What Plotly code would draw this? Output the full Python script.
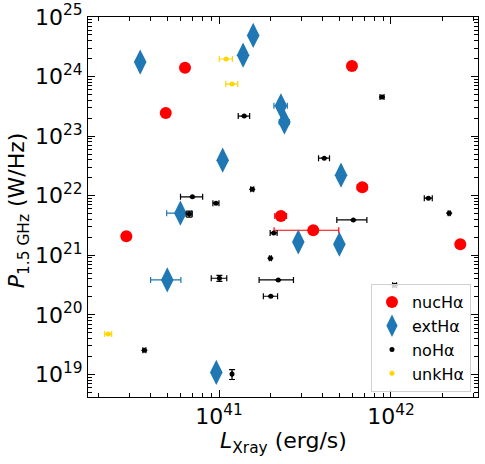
import plotly.graph_objects as go

# nucHα
nuc_x = [6.34e40, 4.9e40, 5.93e41, 6.81e41, 2.29e41, 3.53e41, 2.89e40, 2.53e42]
nuc_y = [1.41e24, 2.44e23, 1.5e24, 1.39e22, 4.57e21, 2.63e21, 2.08e21, 1.53e21]
nuc_xerr = [0, 0, 0, 4.5e40, 1.8e40, 1.44e41, 0, 0]

# extHα
ext_x = [1.58e41, 1.38e41, 3.48e40, 2.29e41, 2.4e41, 1.05e41, 5.12e41, 5.96e40,
         2.89e41, 5.01e41, 5.0e40, 9.64e40]
ext_y = [4.9e24, 2.29e24, 1.75e24, 3.23e23, 1.72e23, 3.95e22, 2.21e22, 5.08e21,
         1.67e21, 1.53e21, 3.85e20, 1.08e19]
ext_xerr = [0, 0, 0, 2.05e40, 1.6e40, 0, 0, 1.0e40, 0, 0, 1.0e40, 0]

# noHα
no_x = [1.40e41, 8.87e41, 4.09e41, 1.56e41, 7.0e40, 9.6e40, 6.71e40, 2.08e41, 1.99e41,
        6.04e41, 1.65e42, 2.18e42, 2.21e41, 1.005e41, 2.0e41, 1.05e42, 3.68e40, 1.19e41]
no_y = [2.17e23, 4.52e23, 4.27e22, 1.28e22, 9.55e21, 7.48e21, 4.94e21, 2.37e21, 8.9e20,
        3.92e21, 9.08e21, 5.08e21, 3.85e20, 4.11e20, 2.05e20, 3.13e20, 2.53e19, 1.01e19]
no_xerr = [1.07e40, 2.4e40, 3.0e40, 3.1e39, 1.03e40, 3.9e39, 2.7e39, 9.7e39, 2.7e39,
           1.2e41, 8.8e40, 2.9e40, 5.0e40, 1.04e40, 1.9e40, 2.8e40, 7.4e38, 0]
no_yerr = [0, 0, 0, 0, 0, 0, 5.7e20, 0, 0, 0, 0, 0, 0, 4.8e19, 0, 0, 0, 1.9e18]

# unkHα
unk_x = [1.1e41, 1.19e41, 2.27e40]
unk_y = [1.97e24, 7.48e23, 4.75e19]
unk_xerr = [9.6e39, 9.6e39, 1.06e39]

# axis tick decades
x_decades = [40, 41, 42]
y_decades = [18, 19, 20, 21, 22, 23, 24, 25]
X_RANGE = [40.238, 42.506]
Y_RANGE = [18.62, 25.0]
FONT = "DejaVu Sans"

x_major = [10.0 ** d for d in x_decades]
y_major = [10.0 ** d for d in y_decades]
x_minor = [m * 10.0 ** d for d in x_decades for m in range(2, 10)]
y_minor = [m * 10.0 ** d for d in y_decades for m in range(2, 10)]

fig = go.Figure()


def add(name, x, y, xerr, yerr, color, symbol, size, lw=1.2):
    fig.add_trace(go.Scatter(
        x=x, y=y, mode="markers", name=name,
        marker=dict(color=color, symbol=symbol, size=size, line=dict(width=0)),
        error_x=dict(type="data", array=xerr, visible=True, color=color,
                     thickness=lw, width=3),
        error_y=dict(type="data", array=yerr if yerr else [0] * len(x), visible=True,
                     color=color, thickness=lw, width=3),
    ))


add("nucHα", nuc_x, nuc_y, nuc_xerr, None, "#ff0000", "circle", 12)
add("extHα", ext_x, ext_y, ext_xerr, None, "#1f77b4", "diamond-tall", 18)
add("noHα", no_x, no_y, no_xerr, no_yerr, "#000000", "circle", 5)
add("unkHα", unk_x, unk_y, unk_xerr, None, "#ffd700", "circle", 5)

# invisible trace to activate the minor-tick overlay axes
fig.add_trace(go.Scatter(x=[nuc_x[0]], y=[nuc_y[0]], xaxis="x2", yaxis="y2",
                         mode="markers", marker=dict(opacity=0), showlegend=False,
                         hoverinfo="skip"))

base = dict(
    type="log", showgrid=False, zeroline=False, automargin=False,
    showline=True, linecolor="black", linewidth=1, mirror="allticks",
    ticks="inside", tickwidth=1, tickcolor="black", ticklabeloverflow="allow",
    tickfont=dict(family=FONT, size=22, color="black"),
)

fig.update_layout(
    width=485, height=464,
    margin=dict(l=88, r=7, t=17, b=67),
    paper_bgcolor="white", plot_bgcolor="white",
    font=dict(family=FONT, color="black"),
    xaxis=dict(base, range=X_RANGE, tickmode="array", tickvals=x_major,
               ticktext=[f"10<sup>{d}</sup>" for d in x_decades], ticklen=7),
    yaxis=dict(base, range=Y_RANGE, tickmode="array", tickvals=y_major,
               ticktext=[f"10<sup>{d}</sup>" for d in y_decades], ticklen=7),
    xaxis2=dict(base, range=X_RANGE, overlaying="x", side="bottom", anchor="y2",
                tickmode="array", tickvals=x_minor, showticklabels=False, ticklen=4),
    yaxis2=dict(base, range=Y_RANGE, overlaying="y", side="left", anchor="x2",
                tickmode="array", tickvals=y_minor, showticklabels=False, ticklen=4),
    legend=dict(x=0.982, y=0.013, xanchor="right", yanchor="bottom",
                bgcolor="rgba(255,255,255,0.8)", bordercolor="#d0d0d0", borderwidth=1,
                font=dict(family=FONT, size=16), itemsizing="trace"),
    showlegend=True,
    annotations=[
        dict(text="<i>L</i><sub>Xray</sub> (erg/s)", xref="paper", yref="paper",
             x=0.5, y=-0.12, xanchor="center", yanchor="middle", showarrow=False,
             font=dict(family=FONT, size=22, color="black")),
        dict(text="<i>P</i><sub>1.5 GHz</sub> (W/Hz)", xref="paper", yref="paper",
             x=-0.179, y=0.492, xanchor="center", yanchor="middle", showarrow=False,
             textangle=-90, font=dict(family=FONT, size=22, color="black")),
    ],
)

fig.write_html("out.html", config={"displayModeBar": False},
               post_script="document.body.style.margin='0';")
